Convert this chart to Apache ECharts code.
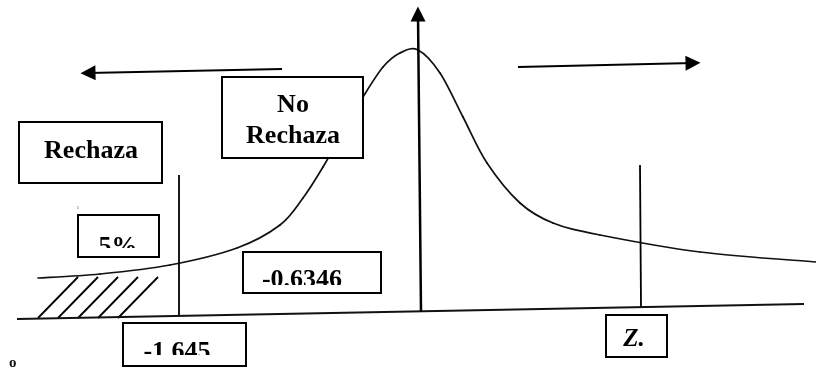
<!DOCTYPE html>
<html>
<head>
<meta charset="utf-8">
<script src="https://cdn.jsdelivr.net/npm/echarts@6/dist/echarts.min.js"></script>
<style>
  html, body { margin: 0; padding: 0; background: #fff; }
  #main { width: 816px; height: 375px; }
</style>
</head>
<body>
<div id="main"></div>
<script>
// curva (coordenadas del dibujo, y hacia abajo)
var curveX = [38, 100, 170, 237, 280, 303, 323, 345, 363, 383, 400, 418, 440, 463, 487, 520, 553, 600, 700, 816];
var curveY = [278, 274, 265, 248, 225, 198, 167, 128, 97, 67, 53, 50, 73, 117, 163, 203, 223, 235, 252, 262];

var baseLine = [[17, 319], [804, 304]];
var axisLine = [[421, 312], [418, 14]];
var leftArrow = [[282, 69], [88, 73]];
var rightArrow = [[518, 67], [693, 63]];
var criticalLines = [[[179, 175], [179, 315]], [[640, 165], [641, 307]]];
var hatchBottom = [38, 58, 78, 98, 118];

var boxLabels = ['Rechaza', 'No\nRechaza', '5%', '-0.6346', '-1.645', 'Z.'];
// x0, y0, x1, y1, textX, textY, cutY
var boxLayout = [
    [19, 122, 162, 183, 91, 151, 0],
    [222, 77, 363, 158, 293, 121, 0],
    [78, 215, 159, 257, 118, 247, 248],
    [243, 252, 381, 293, 302, 280, 285],
    [123, 323, 246, 366, 177, 352, 355],
    [606, 315, 667, 357, 634, 340, 0]
];

var hatchLines = hatchBottom.map(function (x) {
    return {coords: [[x, 318], [x + 40, 277]]};
});

var curveData = curveX.map(function (x, i) { return [x, curveY[i]]; });

// cada tramo i -> i+1 como curva de Bezier (Catmull-Rom) a partir de los puntos vecinos
function renderCurve(params, api) {
    var i = params.dataIndex;
    var n = curveData.length;
    if (i >= n - 1) return null;
    var p = function (k) { k = Math.max(0, Math.min(n - 1, k)); return api.coord(curveData[k]); };
    var p0 = p(i - 1), p1 = p(i), p2 = p(i + 1), p3 = p(i + 2);
    return {
        type: 'bezierCurve',
        shape: {
            x1: p1[0], y1: p1[1], x2: p2[0], y2: p2[1],
            cpx1: p1[0] + (p2[0] - p0[0]) / 6, cpy1: p1[1] + (p2[1] - p0[1]) / 6,
            cpx2: p2[0] - (p3[0] - p1[0]) / 6, cpy2: p2[1] - (p3[1] - p1[1]) / 6
        },
        style: {stroke: '#111', lineWidth: 1.7, fill: null, lineCap: 'round'}
    };
}

var option = {
    animation: false,
    grid: {left: 0, right: 0, top: 0, bottom: 0},
    xAxis: {type: 'value', min: 0, max: 816, show: false},
    yAxis: {type: 'value', min: 0, max: 375, inverse: true, show: false},
    series: [
        {
            name: 'curva',
            type: 'custom',
            data: curveData,
            renderItem: renderCurve,
            clip: false,
            z: 2
        },
        {
            name: 'base',
            type: 'line',
            data: baseLine,
            showSymbol: false,
            lineStyle: {color: '#111', width: 2},
            z: 2
        },
        {
            name: 'lineas',
            type: 'lines',
            coordinateSystem: 'cartesian2d',
            data: criticalLines.map(function (c) { return {coords: c}; }).concat(hatchLines),
            lineStyle: {color: '#000', width: 1.8, opacity: 1},
            z: 2
        },
        {
            name: 'flechas',
            type: 'lines',
            coordinateSystem: 'cartesian2d',
            symbol: ['none', 'triangle'],
            symbolSize: [12, 15],
            data: [{coords: axisLine, lineStyle: {width: 2.5}}, {coords: leftArrow}, {coords: rightArrow}],
            lineStyle: {color: '#000', width: 2, opacity: 1},
            itemStyle: {color: '#000'},
            z: 4
        },
        {
            name: 'cajas',
            type: 'custom',
            clip: false,
            data: boxLayout,
            z: 5,
            renderItem: function (params, api) {
                var b = boxLayout[params.dataIndex];
                var p0 = api.coord([b[0], b[1]]);
                var p1 = api.coord([b[2], b[3]]);
                var t = api.coord([b[4], b[5]]);
                var isZ = params.dataIndex === 5;
                var children = [
                    {type: 'rect', shape: {x: p0[0], y: p0[1], width: p1[0] - p0[0], height: p1[1] - p0[1]},
                        style: {fill: '#fff', stroke: null}},
                    {type: 'text', style: {
                        text: boxLabels[params.dataIndex], x: t[0], y: t[1],
                        align: 'center', verticalAlign: 'middle', lineHeight: 31,
                        fill: '#000',
                        font: isZ ? 'italic bold 25px "Liberation Serif"' : 'bold 26px "Liberation Serif"'
                    }}
                ];
                if (b[6]) {
                    var c = api.coord([b[0], b[6]]);
                    children.push({type: 'rect', shape: {x: p0[0] + 1, y: c[1], width: p1[0] - p0[0] - 2, height: p1[1] - c[1] - 1},
                        style: {fill: '#fff', stroke: null}});
                }
                children.push({type: 'rect', shape: {x: p0[0], y: p0[1], width: p1[0] - p0[0], height: p1[1] - p0[1]},
                    style: {fill: 'none', stroke: '#000', lineWidth: 2}});
                return {type: 'group', children: children};
            }
        }
    ],
    graphic: [
        {type: 'text', left: 9, top: 356, style: {text: 'o', font: 'bold 15px "Liberation Serif"', fill: '#111'}},
        {type: 'text', left: 77, top: 204, style: {text: 'ı', font: '7px "Liberation Serif"', fill: '#777'}}
    ]
};

var myChart = echarts.init(document.getElementById('main'));
myChart.setOption(option);
</script>
</body>
</html>
